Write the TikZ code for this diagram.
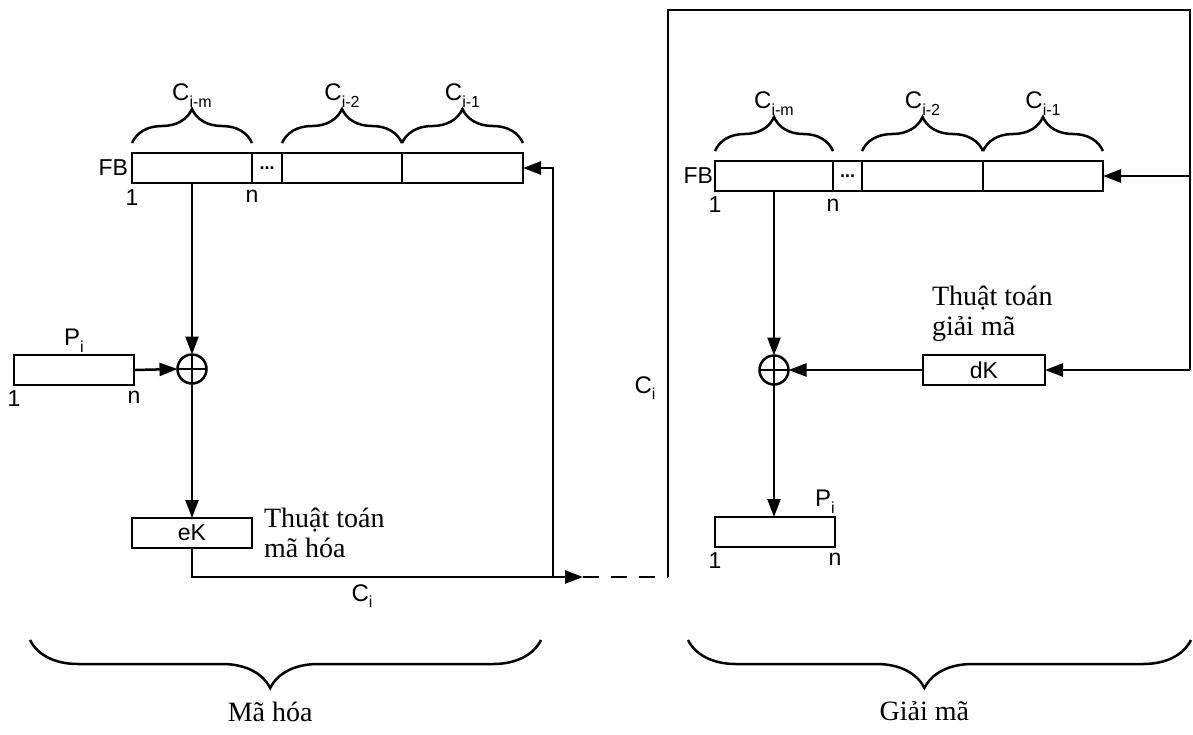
\documentclass[tikz,border=0pt]{standalone}
\usepackage{fontspec}
\setmainfont{Liberation Serif}
\setsansfont{Liberation Sans}
\usetikzlibrary{positioning,arrows.meta,decorations.pathreplacing}
\newcommand{\lowidx}[1]{\raisebox{-0.5ex}{\fontsize{16}{16}\selectfont #1}}

\begin{document}
\begin{tikzpicture}[
  x=1pt, y=-1pt,
  line width=2.5pt,
  every node/.style={font=\sffamily\fontsize{23}{25}\selectfont, inner sep=0pt, outer sep=0pt},
  cell/.style={draw, minimum height=30pt, anchor=west},
  box/.style={draw, minimum width=120pt, minimum height=30pt},
  xorop/.style={draw, circle, minimum size=29pt},
  flow/.style={-{Triangle[length=18pt,width=13pt]}},
  algo/.style={font=\rmfamily\fontsize{28}{30}\selectfont, align=left},
  clabel/.style={font=\sffamily\fontsize{24}{26}\selectfont},
  brace/.style={decorate, decoration={brace, amplitude=34pt}},
  bigbrace/.style={decorate, decoration={brace, amplitude=48pt, aspect=0.53}},
  dashline/.style={dash pattern=on 16pt off 12pt}
]
\useasboundingbox (0,0) rectangle (1193,734);

% ----- ma hoa -----
\node[cell, minimum width=120pt] (lm) at (132,168) {};
\node[cell, minimum width=30pt, right=0pt of lm] (ldot) {\bfseries\fontsize{18}{18}\selectfont ...};
\node[cell, minimum width=120pt, right=0pt of ldot] (l2) {};
\node[cell, minimum width=121pt, right=0pt of l2] (l1) {};
\node[left=4pt of lm] (lfb) {FB};
\node[below=7pt of lm.south west] (lone) {1};
\node[below=7pt of lm.south east] (ln) {n};
\draw[brace] ([yshift=10pt]lm.north west) -- node[clabel, above=36pt] (lcm) {C\lowidx{i-m}} ([yshift=10pt]lm.north east);
\draw[brace] ([yshift=10pt]l2.north west) -- node[clabel, above=36pt] (lc2) {C\lowidx{i-2}} ([yshift=10pt]l2.north east);
\draw[brace] ([yshift=10pt]l1.north west) -- node[clabel, above=36pt] (lc1) {C\lowidx{i-1}} ([yshift=10pt]l1.north east);

\node[box] (pl) at (74,370) {};
\node[clabel, above=3pt of pl] (plab) {P\lowidx{i}};
\node[below=6pt of pl.south west] (pone) {1};
\node[below=6pt of pl.south east] (pn) {n};
\node[xorop] (xl) at (192,369) {};
\draw (xl.north) -- (xl.south) (xl.west) -- (xl.east);

\node[box] (ek) at (192,533) {eK};
\node[algo, right=12pt of ek] (ektxt) {Thuật toán\\mã hóa};

\coordinate (fork) at (553,577);
\coordinate (tip) at (583,577);
\coordinate (cbot) at (668,577);
\node[clabel] (ci1) at (362,596) {C\lowidx{i}};
\node[clabel] (ci2) at (645,388) {C\lowidx{i}};

\draw[flow] (lm.south) -- (lm.south |- xl.north);
\draw[flow] (pl.east) -- (xl.west);
\draw[flow] (xl.south) -- (xl.south |- ek.north);
\draw (ek.south) |- (fork);
\draw[flow] (fork) |- (l1.east);
\draw[flow] (fork) -- (tip);
\draw[dashline] (tip) -- (cbot);

% ----- giai ma -----
\coordinate (ctl) at (668,10);
\coordinate (ctr) at (1190,10);

\node[cell, minimum width=118pt] (rm) at (715,176) {};
\node[cell, minimum width=29pt, right=0pt of rm] (rdot) {\bfseries\fontsize{18}{18}\selectfont ...};
\node[cell, minimum width=121pt, right=0pt of rdot] (r2) {};
\node[cell, minimum width=120pt, right=0pt of r2] (r1) {};
\node[left=2pt of rm] (rfb) {FB};
\node[below=6pt of rm.south west] (rone) {1};
\node[below=8pt of rm.south east] (rn) {n};
\draw[brace] ([yshift=10pt]rm.north west) -- node[clabel, above=36pt] (rcm) {C\lowidx{i-m}} ([yshift=10pt]rm.north east);
\draw[brace] ([yshift=10pt]r2.north west) -- node[clabel, above=36pt] (rc2) {C\lowidx{i-2}} ([yshift=10pt]r2.north east);
\draw[brace] ([yshift=10pt]r1.north west) -- node[clabel, above=36pt] (rc1) {C\lowidx{i-1}} ([yshift=10pt]r1.north east);

\node[xorop] (xr) at (774,370) {};
\draw (xr.north) -- (xr.south) (xr.west) -- (xr.east);
\node[box, minimum width=122pt] (dk) at (984,370) {dK};
\node[algo, anchor=south west] (dktxt) at ([xshift=9pt,yshift=13pt]dk.north west) {Thuật toán\\giải mã};

\node[box] (pr) at (775,532) {};
\node[clabel, anchor=south] (prlab) at ([xshift=-10pt,yshift=4pt]pr.north east) {P\lowidx{i}};
\node[below=6pt of pr.south west] (prone) {1};
\node[below=6pt of pr.south east] (prn) {n};

\draw (cbot) -- (ctl) -- (ctr) -- (ctr |- dk.east);
\draw[flow] (ctr |- dk.east) -- (dk.east);
\draw[flow] (ctr |- r1.east) -- (r1.east);
\draw[flow] (dk.west) -- (xr.east);
\draw[flow] (rm.south) -- (rm.south |- xr.north);
\draw[flow] (xr.south) -- (xr.south |- pr.north);

% ----- ngoac duoi -----
\draw[bigbrace] (541,640) -- node[algo, pos=0.53, below=62pt] (mh) {Mã hóa} (30,640);
\draw[bigbrace] (1191,640) -- node[algo, pos=0.53, below=62pt] (gm) {Giải mã} (688,640);
\end{tikzpicture}
\end{document}
